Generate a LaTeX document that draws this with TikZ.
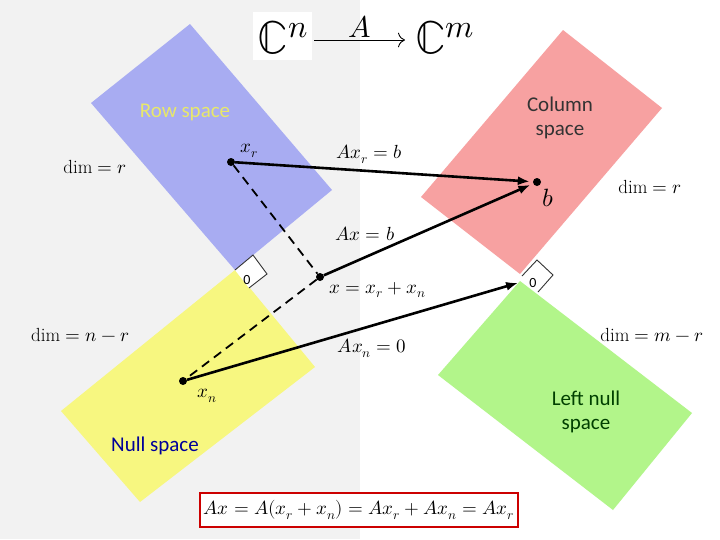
\documentclass[tikz,border=0pt]{standalone}
\usepackage{amsmath}
\usepackage{fontspec}
\usepackage{unicode-math}
\setmathfont{Latin Modern Math}
\setsansfont{Carlito}
\usetikzlibrary{arrows.meta}

\definecolor{rowblue}{HTML}{A8ACF2}
\definecolor{nullyellow}{HTML}{F7F780}
\definecolor{colred}{HTML}{F7A1A1}
\definecolor{leftgreen}{HTML}{B2F58A}
\definecolor{rowtext}{HTML}{E8E86A}

\begin{document}
\begin{tikzpicture}[
    x=1pt, y=-1pt,
    spacename/.style={font=\sffamily\fontsize{21}{24}\selectfont, align=center},
    lbl/.style={font=\fontsize{19}{22}\selectfont},
    pt/.style={circle, fill=black, inner sep=0pt, minimum size=8pt},
    map/.style={-{Latex[length=12pt,width=9pt]}, line width=2.6pt, shorten >=3pt},
    perp/.style={draw=black!80, fill=white, line width=0.9pt}
]
    % Background
    \useasboundingbox (0,0) rectangle (720,539);
    \fill[white] (0,0) rectangle (720,539);
    \fill[black!5] (0,0) rectangle (360,539);
    \fill[white] (253,12) rectangle (312,60);

    % The four subspaces
    \fill[rowblue] (190,24) -- (332,190) -- (235,270) -- (91,103) -- cycle;
    \fill[nullyellow] (235,270) -- (315,367) -- (140,502) -- (61,411) -- cycle;
    \fill[colred] (563,30) -- (662,108) -- (520,274) -- (421,197) -- cycle;
    \fill[leftgreen] (520,281) -- (692,413) -- (613,510) -- (438,375) -- cycle;

    % Right angle marks
    \draw[perp] (235,270) -- (253,255) -- (267,274) -- (249,288);
    \node[font=\sffamily\fontsize{14}{16}\selectfont] (zl) at (247,280) {0};
    \draw[perp] (522,276) -- (537,260) -- (553,275) -- (538,292);
    \node[font=\sffamily\fontsize{14}{16}\selectfont] (zr) at (533,283) {0};
    \coordinate (zero) at (521,282);

    % Space names
    \node[spacename, text=rowtext] (row) at (185,112) {Row space};
    \node[spacename, text=black!80] (col) at (560,118) {Column\\space};
    \node[spacename, text=blue!60!black] (nul) at (155,446) {Null space};
    \node[spacename, text=green!25!black] (lnul) at (586,412) {Left null\\space};

    % Dimensions
    \node[lbl] (d1) at (95,167) {$\dim = r$};
    \node[lbl] (d2) at (80,335) {$\dim = n - r$};
    \node[lbl] (d3) at (650,187) {$\dim = r$};
    \node[lbl] (d4) at (652,335) {$\dim = m - r$};

    % Vectors
    \node[pt] (xr) at (231,162) {};
    \node[pt] (b) at (537,182) {};
    \node[pt] (x) at (320,277) {};
    \node[pt] (xn) at (183,381) {};
    \node[lbl] at (249,151) {$x_r$};
    \node[font=\fontsize{25}{28}\selectfont] at (548,198) {$b$};
    \node[lbl] at (207,396) {$x_n$};
    \node[lbl, anchor=west] at (326,290) {$x = x_r + x_n$};

    \draw[dashed, line width=1.8pt, dash pattern=on 9pt off 6pt] (xr) -- (x) -- (xn);
    \draw[map] (xr) -- node[lbl, above=3pt, pos=0.45] {$Ax_r = b$} (b);
    \draw[map] (x) -- node[lbl, above left=-2pt, pos=0.35] {$Ax = b$} (b);
    \draw[map] (xn) -- (zero);
    \node[lbl] (axn) at (372,348) {$Ax_n = 0$};

    % Map from C^n to C^m
    \node[font=\fontsize{46}{48}\selectfont] (cn) at (283,38) {$\mathbb{C}^n$};
    \node[font=\fontsize{46}{48}\selectfont] (cm) at (445,38) {$\mathbb{C}^m$};
    \draw[-{To[length=7pt]}, line width=0.9pt] (314,40) -- node[above=-1pt, font=\fontsize{30}{32}\selectfont] {$A$} (405,40);

    % Summary
    \node[lbl, draw=red!80!black, line width=1.5pt, fill=white, minimum width=318pt, minimum height=34pt] (sum) at (359,510)
        {$Ax = A(x_r + x_n) = Ax_r + Ax_n = Ax_r$};
\end{tikzpicture}
\end{document}
